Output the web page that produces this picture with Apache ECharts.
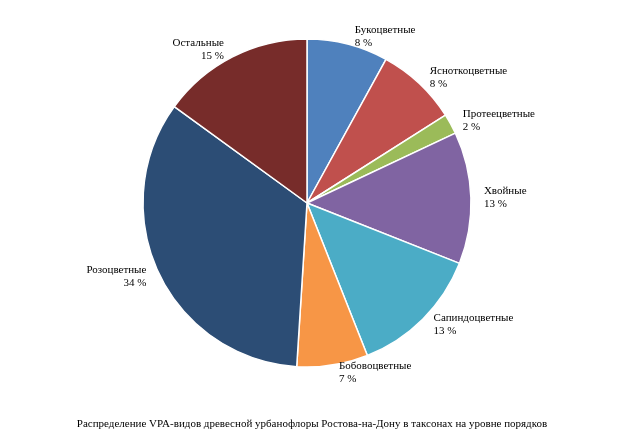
<!DOCTYPE html>
<html>
<head>
<meta charset="utf-8">
<script src="https://cdn.jsdelivr.net/npm/echarts@6/dist/echarts.min.js"></script>
<style>html,body{margin:0;padding:0;background:#fff}#chart{width:624px;height:443px}</style>
</head>
<body>
<div id="chart"></div>
<script>
var categories = ['Букоцветные', 'Ясноткоцветные', 'Протеецветные', 'Хвойные', 'Сапиндоцветные', 'Бобовоцветные', 'Розоцветные', 'Остальные'];
var values = [8, 8, 2, 13, 13, 7, 34, 15];
var colors = ['#4F81BD', '#C0504D', '#9BBB59', '#8064A2', '#4BACC6', '#F79646', '#2C4D75', '#772C2A'];
var title = 'Распределение VPA-видов древесной урбанофлоры Ростова-на-Дону в таксонах на уровне порядков';

var data = [];
for (var i = 0; i < categories.length; i++) {
	data.push({name: categories[i], value: values[i], itemStyle: {color: colors[i]}});
}

var myChart = echarts.init(document.getElementById('chart'));
myChart.setOption({
	animation: false,
	title: {
		text: title,
		left: 'center',
		bottom: 8,
		textStyle: {fontFamily: 'Liberation Serif', fontSize: 11, fontWeight: 'normal', color: '#000'}
	},
	series: [{
		type: 'pie',
		center: [307, 203],
		radius: [0, 164],
		startAngle: 90,
		clockwise: true,
		itemStyle: {borderColor: '#fff', borderWidth: 1.5},
		label: {
			show: true,
			position: 'outside',
			formatter: '{b}\n{c} %',
			align: 'center',
			fontFamily: 'Liberation Serif',
			fontSize: 11,
			lineHeight: 13,
			color: '#000'
		},
		labelLine: {show: false, length: 8, length2: 0},
		data: data
	}]
});
</script>
</body>
</html>
